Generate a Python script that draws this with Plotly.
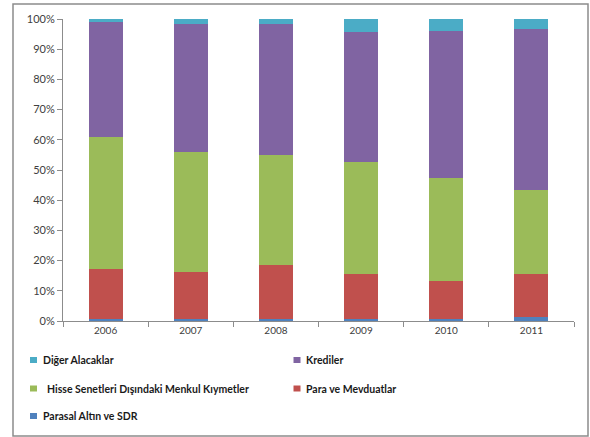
import plotly.graph_objects as go

years = ["2006", "2007", "2008", "2009", "2010", "2011"]

# Shares of each asset class (percent of total)
parasal_altin_sdr = [0.5, 0.5, 0.8, 0.8, 0.8, 1.4]
para_mevduat = [16.6, 15.8, 17.7, 14.9, 12.6, 14.3]
hisse_disi_menkul = [43.8, 39.6, 36.6, 37.0, 34.0, 27.7]
krediler = [38.0, 42.3, 43.1, 43.1, 48.5, 53.2]
diger_alacaklar = [1.1, 1.8, 1.8, 4.2, 4.1, 3.4]

series = [
    ("Parasal Altın ve SDR", parasal_altin_sdr, "#4F81BD"),
    ("Para ve Mevduatlar", para_mevduat, "#C0504D"),
    ("Hisse Senetleri Dışındaki Menkul Kıymetler", hisse_disi_menkul, "#9BBB59"),
    ("Krediler", krediler, "#8064A2"),
    ("Diğer Alacaklar", diger_alacaklar, "#4BACC6"),
]

W, H = 590, 437
L, R, T, B = 63, 16, 19, 116
PW, PH = W - L - R, H - T - B
FONT = "Lato"


def px_x(x):
    return (x - L) / PW


def px_y(y):
    return (H - B - y) / PH


fig = go.Figure()
for name, vals, color in series:
    fig.add_trace(go.Bar(x=years, y=vals, name=name, marker_color=color,
                         marker_line_width=0, showlegend=False))

# Legend laid out in two columns: (square centre x, centre y, text start x)
legend_slots = {
    "Diğer Alacaklar": (33.5, 360, 41),
    "Krediler": (297, 360, 304),
    "Hisse Senetleri Dışındaki Menkul Kıymetler": (33.5, 388.5, 45),
    "Para ve Mevduatlar": (297, 388.5, 304),
    "Parasal Altın ve SDR": (33.5, 416, 41),
}
shapes = [dict(type="rect", xref="paper", yref="paper",
               x0=px_x(13), x1=px_x(588), y0=px_y(436), y1=px_y(4),
               line=dict(color="#8c8c8c", width=1.5), fillcolor="rgba(0,0,0,0)",
               layer="below")]
annotations = []
for name, vals, color in series:
    cx, cy, tx = legend_slots[name]
    shapes.append(dict(type="rect", xref="paper", yref="paper",
                       x0=px_x(cx - 3.5), x1=px_x(cx + 3.5),
                       y0=px_y(cy + 3), y1=px_y(cy - 3),
                       fillcolor=color, line=dict(width=0)))
    annotations.append(dict(text=name, xref="paper", yref="paper",
                            x=px_x(tx), y=px_y(cy), xanchor="left", yanchor="middle",
                            showarrow=False, xshift=0,
                            font=dict(family=FONT, size=10.5, color="#1a1a1a",
                                      weight="bold")))

fig.update_layout(
    width=W, height=H,
    margin=dict(l=L, r=R, t=T, b=B, autoexpand=False),
    barmode="stack", barnorm="percent", bargap=0.6,
    paper_bgcolor="white", plot_bgcolor="white",
    showlegend=False,
    font=dict(family=FONT, size=11, color="#404040"),
    shapes=shapes,
    annotations=annotations,
)
fig.update_yaxes(range=[0, 100], dtick=10, ticksuffix="%", showgrid=False,
                 showline=True, linecolor="#8c8c8c", linewidth=1,
                 ticks="outside", ticklen=5, tickcolor="#8c8c8c",
                 tickfont=dict(family=FONT, size=11, color="#404040"), zeroline=False)
fig.update_xaxes(type="category", showgrid=False, showline=True, linecolor="#8c8c8c",
                 linewidth=1, ticks="outside", tickson="boundaries", ticklen=5,
                 tickangle=0, tickcolor="#8c8c8c",
                 tickfont=dict(family=FONT, size=10, color="#404040"))

fig.write_html("out.html")
